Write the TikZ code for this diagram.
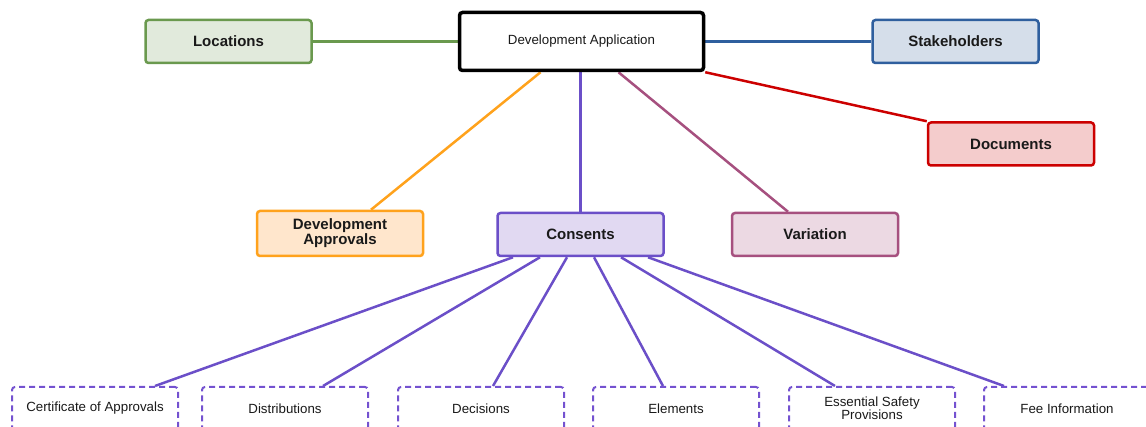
\documentclass[tikz,border=0pt]{standalone}
\usepackage{fontspec}
\setmainfont{Liberation Sans}
\usetikzlibrary{backgrounds}
\definecolor{gstroke}{HTML}{6A994E}
\definecolor{gfill}{HTML}{E1EADC}
\definecolor{bstroke}{HTML}{2F5F9E}
\definecolor{bfill}{HTML}{D5DEEA}
\definecolor{rstroke}{HTML}{CC0000}
\definecolor{rfill}{HTML}{F4CCCC}
\definecolor{ostroke}{HTML}{FFA21C}
\definecolor{ofill}{HTML}{FFE6CC}
\definecolor{pstroke}{HTML}{6B4FC8}
\definecolor{pfill}{HTML}{E1D9F2}
\definecolor{vstroke}{HTML}{A6507F}
\definecolor{vfill}{HTML}{ECD9E3}
\definecolor{dstroke}{HTML}{7452D0}
\definecolor{txt}{HTML}{1A1A1A}
\tikzset{
  box/.style={rectangle, rounded corners=3pt, line width=2.5pt, inner sep=0pt,
    minimum width=166pt, minimum height=43pt, align=center, text=txt,
    font=\fontsize{15}{15}\selectfont\bfseries},
  leaf/.style={rectangle, rounded corners=3pt, line width=2pt, draw=dstroke, fill=white,
    dash pattern=on 6pt off 4pt, inner sep=0pt, minimum width=166pt, minimum height=43pt,
    align=center, text=txt, font=\fontsize{13.3}{13}\selectfont},
  conn/.style={line width=2.5pt},
}
\begin{document}
\begin{tikzpicture}[x=1pt,y=-1pt]
\useasboundingbox (0,0) rectangle (1146,427);
\node[rectangle, rounded corners=3pt, line width=3.5pt, draw=black, fill=white, inner sep=0pt,
  minimum width=244pt, minimum height=58pt, text=txt, font=\fontsize{13.3}{13}\selectfont]
  (da) at (581.5,41.5) {Development Application};
\node[box, draw=gstroke, fill=gfill] (loc) at (228.5,41.5) {Locations};
\node[box, draw=bstroke, fill=bfill] (stk) at (955.5,41.5) {Stakeholders};
\node[box, draw=rstroke, fill=rfill] (doc) at (1011,144) {Documents};
\node[box, draw=ostroke, fill=ofill, minimum height=45pt] (dap) at (340,233.5) {Development\\Approvals};
\node[box, draw=pstroke, fill=pfill] (con) at (580.5,234.5) {Consents};
\node[box, draw=vstroke, fill=vfill] (var) at (815,234.5) {Variation};
\node[leaf] (b1) at (95,408.5) {Certificate of Approvals};
\node[leaf] (b2) at (285,408.5) {Distributions};
\node[leaf] (b3) at (481,408.5) {Decisions};
\node[leaf] (b4) at (676,408.5) {Elements};
\node[leaf] (b5) at (872,408.5) {Essential Safety\\Provisions};
\node[leaf] (b6) at (1067,408.5) {Fee Information};
\begin{scope}[on background layer]
\draw[conn, gstroke] (loc.east) -- (da.west);
\draw[conn, bstroke] (da.east) -- (stk.west);
\draw[conn, rstroke] (da.south east) -- (doc.north west);
\draw[conn, ostroke] ([xshift=-41pt]da.south) -- ([xshift=31pt]dap.north);
\draw[conn, pstroke] (da.south -| con.north) -- (con.north);
\draw[conn, vstroke] ([xshift=37pt]da.south) -- ([xshift=-27pt]var.north);
\draw[conn, pstroke] ([xshift=-67.5pt]con.south) -- ([xshift=60pt]b1.north);
\draw[conn, pstroke] ([xshift=-40.5pt]con.south) -- ([xshift=38pt]b2.north);
\draw[conn, pstroke] ([xshift=-13.5pt]con.south) -- ([xshift=12pt]b3.north);
\draw[conn, pstroke] ([xshift=13.5pt]con.south) -- ([xshift=-13pt]b4.north);
\draw[conn, pstroke] ([xshift=40.5pt]con.south) -- ([xshift=-37pt]b5.north);
\draw[conn, pstroke] ([xshift=67.5pt]con.south) -- ([xshift=-63pt]b6.north);
\end{scope}
\end{tikzpicture}
\end{document}
